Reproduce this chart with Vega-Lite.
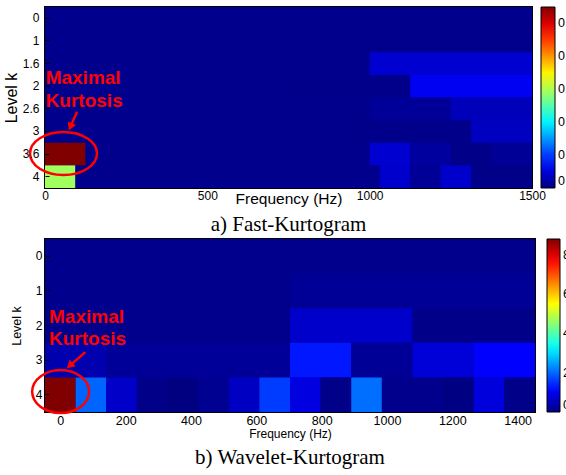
{
  "$schema": "https://vega.github.io/schema/vega-lite/v6.json",
  "padding": {"left": 2, "top": 5, "right": -10, "bottom": 0},
  "spacing": 1,
  "resolve": {"scale": {"color": "independent", "x": "independent", "y": "independent"}, "legend": {"color": "independent"}},
  "config": {
    "font": "Liberation Sans",
    "view": {"stroke": "#000000", "strokeWidth": 2, "fill": "#00008a"},
    "axis": {"grid": false, "domain": false, "ticks": false, "labelColor": "#000000", "titleColor": "#000000", "titleFontWeight": "normal", "labelFont": "Liberation Sans", "titleFont": "Liberation Sans", "tickColor": "#000000", "tickWidth": 1},
    "legend": {"labelColor": "#000000", "labelFont": "Liberation Sans"},
    "title": {"color": "#000000"}
  },
  "datasets": {
    "fast": [
      {"level": "0", "f0": 0, "f1": 1500, "k": 0.007},
      {"level": "1", "f0": 0, "f1": 750, "k": 0.007},
      {"level": "1", "f0": 750, "f1": 1500, "k": 0.007},
      {"level": "1.6", "f0": 0, "f1": 500, "k": 0.007},
      {"level": "1.6", "f0": 500, "f1": 1000, "k": 0.007},
      {"level": "1.6", "f0": 1000, "f1": 1500, "k": 0.044},
      {"level": "2", "f0": 0, "f1": 375, "k": 0.007},
      {"level": "2", "f0": 375, "f1": 750, "k": 0.007},
      {"level": "2", "f0": 750, "f1": 1125, "k": 0.006},
      {"level": "2", "f0": 1125, "f1": 1500, "k": 0.062},
      {"level": "2.6", "f0": 0, "f1": 250, "k": 0.007},
      {"level": "2.6", "f0": 250, "f1": 500, "k": 0.007},
      {"level": "2.6", "f0": 500, "f1": 750, "k": 0.007},
      {"level": "2.6", "f0": 750, "f1": 1000, "k": 0.007},
      {"level": "2.6", "f0": 1000, "f1": 1250, "k": 0.013},
      {"level": "2.6", "f0": 1250, "f1": 1500, "k": 0.032},
      {"level": "3", "f0": 0, "f1": 187.5, "k": 0.007},
      {"level": "3", "f0": 187.5, "f1": 375, "k": 0.007},
      {"level": "3", "f0": 375, "f1": 562.5, "k": 0.007},
      {"level": "3", "f0": 562.5, "f1": 750, "k": 0.007},
      {"level": "3", "f0": 750, "f1": 937.5, "k": 0.007},
      {"level": "3", "f0": 937.5, "f1": 1125, "k": 0.006},
      {"level": "3", "f0": 1125, "f1": 1312.5, "k": 0.006},
      {"level": "3", "f0": 1312.5, "f1": 1500, "k": 0.035},
      {"level": "3.6", "f0": 0, "f1": 125, "k": 0.55},
      {"level": "3.6", "f0": 125, "f1": 250, "k": 0.007},
      {"level": "3.6", "f0": 250, "f1": 375, "k": 0.007},
      {"level": "3.6", "f0": 375, "f1": 500, "k": 0.007},
      {"level": "3.6", "f0": 500, "f1": 625, "k": 0.007},
      {"level": "3.6", "f0": 625, "f1": 750, "k": 0.007},
      {"level": "3.6", "f0": 750, "f1": 875, "k": 0.007},
      {"level": "3.6", "f0": 875, "f1": 1000, "k": 0.007},
      {"level": "3.6", "f0": 1000, "f1": 1125, "k": 0.044},
      {"level": "3.6", "f0": 1125, "f1": 1250, "k": 0.016},
      {"level": "3.6", "f0": 1250, "f1": 1375, "k": 0.005},
      {"level": "3.6", "f0": 1375, "f1": 1500, "k": 0.012},
      {"level": "4", "f0": 0, "f1": 93.75, "k": 0.293},
      {"level": "4", "f0": 93.75, "f1": 187.5, "k": 0.007},
      {"level": "4", "f0": 187.5, "f1": 281.25, "k": 0.007},
      {"level": "4", "f0": 281.25, "f1": 375, "k": 0.007},
      {"level": "4", "f0": 375, "f1": 468.75, "k": 0.007},
      {"level": "4", "f0": 468.75, "f1": 562.5, "k": 0.007},
      {"level": "4", "f0": 562.5, "f1": 656.25, "k": 0.007},
      {"level": "4", "f0": 656.25, "f1": 750, "k": 0.007},
      {"level": "4", "f0": 750, "f1": 843.75, "k": 0.007},
      {"level": "4", "f0": 843.75, "f1": 937.5, "k": 0.007},
      {"level": "4", "f0": 937.5, "f1": 1031.25, "k": 0.007},
      {"level": "4", "f0": 1031.25, "f1": 1125, "k": 0.041},
      {"level": "4", "f0": 1125, "f1": 1218.75, "k": 0.012},
      {"level": "4", "f0": 1218.75, "f1": 1312.5, "k": 0.041},
      {"level": "4", "f0": 1312.5, "f1": 1406.25, "k": 0.005},
      {"level": "4", "f0": 1406.25, "f1": 1500, "k": 0.005}
    ],
    "wav": [
      {"level": "0", "f0": -46.875, "f1": 1453.125, "k": 0.1},
      {"level": "1", "f0": -46.875, "f1": 703.125, "k": 0.1},
      {"level": "1", "f0": 703.125, "f1": 1453.125, "k": 0.2},
      {"level": "2", "f0": -46.875, "f1": 328.125, "k": 0.1},
      {"level": "2", "f0": 328.125, "f1": 703.125, "k": 0.11},
      {"level": "2", "f0": 703.125, "f1": 1078.125, "k": 0.65},
      {"level": "2", "f0": 1078.125, "f1": 1453.125, "k": 0.07},
      {"level": "3", "f0": -46.875, "f1": 140.625, "k": 0.4},
      {"level": "3", "f0": 140.625, "f1": 328.125, "k": 0.22},
      {"level": "3", "f0": 328.125, "f1": 515.625, "k": 0.22},
      {"level": "3", "f0": 515.625, "f1": 703.125, "k": 0.22},
      {"level": "3", "f0": 703.125, "f1": 890.625, "k": 1.3},
      {"level": "3", "f0": 890.625, "f1": 1078.125, "k": 0.2},
      {"level": "3", "f0": 1078.125, "f1": 1265.625, "k": 0.76},
      {"level": "3", "f0": 1265.625, "f1": 1453.125, "k": 1.1},
      {"level": "4", "f0": -46.875, "f1": 46.875, "k": 8.8},
      {"level": "4", "f0": 46.875, "f1": 140.625, "k": 1.96},
      {"level": "4", "f0": 140.625, "f1": 234.375, "k": 0.62},
      {"level": "4", "f0": 234.375, "f1": 328.125, "k": 0.07},
      {"level": "4", "f0": 328.125, "f1": 421.875, "k": 0.01},
      {"level": "4", "f0": 421.875, "f1": 515.625, "k": 0.15},
      {"level": "4", "f0": 515.625, "f1": 609.375, "k": 0.57},
      {"level": "4", "f0": 609.375, "f1": 703.125, "k": 1.62},
      {"level": "4", "f0": 703.125, "f1": 796.875, "k": 0.84},
      {"level": "4", "f0": 796.875, "f1": 890.625, "k": 0.07},
      {"level": "4", "f0": 890.625, "f1": 984.375, "k": 2.05},
      {"level": "4", "f0": 984.375, "f1": 1078.125, "k": 0.11},
      {"level": "4", "f0": 1078.125, "f1": 1171.875, "k": 0.11},
      {"level": "4", "f0": 1171.875, "f1": 1265.625, "k": 0.02},
      {"level": "4", "f0": 1265.625, "f1": 1359.375, "k": 0.8},
      {"level": "4", "f0": 1359.375, "f1": 1453.125, "k": 0.07}
    ]
  },
  "vconcat": [
    {
      "width": 487,
      "height": 181,
      "title": {"text": "a) Fast-Kurtogram", "orient": "bottom", "anchor": "middle", "font": "Liberation Serif", "fontSize": 21, "fontWeight": "normal", "offset": 7},
      "layer": [
        {
          "data": {"name": "fast"},
          "mark": {"type": "rect"},
          "encoding": {
            "x": {"field": "f0", "type": "quantitative", "scale": {"domain": [0, 1500], "nice": false, "zero": false},
                  "axis": {"values": [0, 500, 1000, 1500], "format": "d", "title": "Frequency (Hz)", "labelFontSize": 12, "titleFontSize": 15.5, "labelPadding": 6, "titlePadding": -10, "labelFlush": false, "ticks": true, "tickSize": -4}},
            "x2": {"field": "f1"},
            "y": {"field": "level", "type": "ordinal", "sort": ["0", "1", "1.6", "2", "2.6", "3", "3.6", "4"], "scale": {"paddingInner": 0, "paddingOuter": 0},
                  "axis": {"title": "Level k", "labelFontSize": 12, "titleFontSize": 16, "labelPadding": 10, "titlePadding": 3, "ticks": true, "tickSize": -4}},
            "color": {"field": "k", "type": "quantitative",
                      "scale": {"domain": [0, 0.06875, 0.20625, 0.34375, 0.48125, 0.55], "range": ["#000080", "#0000ff", "#00ffff", "#ffff00", "#ff0000", "#800000"], "interpolate": "rgb"},
                      "legend": {"title": null, "orient": "right", "offset": 8, "padding": 0, "gradientLength": 181, "gradientThickness": 14, "values": [0, 0.1, 0.2, 0.3, 0.4, 0.5], "format": "~g", "labelFontSize": 12.5, "labelOffset": 3, "labelOverlap": false, "gradientStrokeColor": "#000000", "gradientStrokeWidth": 1}}
          }
        },
        {
          "layer": [
            {
              "data": {"values": [{"f": 57, "v": 6.475}]},
              "mark": {"type": "point", "shape": "M1,0C1,0.3546,0.5523,0.642,0,0.642C-0.5523,0.642,-1,0.3546,-1,0C-1,-0.3546,-0.5523,-0.642,0,-0.642C0.5523,-0.642,1,-0.3546,1,0Z", "size": 4489, "filled": false, "stroke": "#ff0000", "strokeWidth": 2.5, "opacity": 1},
              "encoding": {
                "x": {"field": "f", "type": "quantitative", "title": null, "scale": {"domain": [0, 1500], "nice": false, "zero": false},
                      "axis": {"orient": "top", "values": [0, 500, 1000, 1500], "labels": false, "title": null, "ticks": true, "tickSize": -4}},
                "y": {"field": "v", "type": "quantitative", "title": null, "scale": {"domain": [0, 8], "nice": false, "zero": false, "reverse": true},
                      "axis": {"orient": "right", "values": [0.5, 1.5, 2.5, 3.5, 4.5, 5.5, 6.5, 7.5], "labels": false, "title": null, "ticks": true, "tickSize": -4}}
              }
            },
            {
              "data": {"values": [{"f": 98.6, "v": 4.64, "f2": 78.2, "v2": 5.295}]},
              "mark": {"type": "rule", "stroke": "#ff0000", "strokeWidth": 2.5},
              "encoding": {
                "x": {"field": "f", "type": "quantitative", "title": null},
                "y": {"field": "v", "type": "quantitative", "title": null},
                "x2": {"field": "f2"},
                "y2": {"field": "v2"}
              }
            },
            {
              "data": {"values": [{"f": 78.2, "v": 5.295}]},
              "mark": {"type": "point", "shape": "triangle-down", "angle": 24, "size": 80, "filled": true, "fill": "#ff0000", "opacity": 1},
              "encoding": {
                "x": {"field": "f", "type": "quantitative", "title": null},
                "y": {"field": "v", "type": "quantitative", "title": null}
              }
            },
            {
              "data": {"values": [{"t": "Maximal", "f": 2, "v": 3.42}, {"t": "Kurtosis", "f": 2, "v": 4.43}]},
              "mark": {"type": "text", "align": "left", "baseline": "alphabetic", "font": "Liberation Sans", "fontSize": 19, "fontWeight": "bold", "fill": "#ff0000"},
              "encoding": {
                "x": {"field": "f", "type": "quantitative", "title": null},
                "y": {"field": "v", "type": "quantitative", "title": null},
                "text": {"field": "t"}
              }
            }
          ]
        }
      ],
      "resolve": {"scale": {"x": "independent", "y": "independent"}}
    },
    {
      "width": 490,
      "height": 173,
      "title": {"text": "b) Wavelet-Kurtogram", "orient": "bottom", "anchor": "middle", "font": "Liberation Serif", "fontSize": 21, "fontWeight": "normal", "offset": 7},
      "layer": [
        {
          "data": {"name": "wav"},
          "mark": {"type": "rect"},
          "encoding": {
            "x": {"field": "f0", "type": "quantitative", "scale": {"domain": [-46.875, 1453.125], "nice": false, "zero": false},
                  "axis": {"values": [0, 200, 400, 600, 800, 1000, 1200, 1400], "format": "d", "title": "Frequency (Hz)", "labelFontSize": 12.5, "titleFontSize": 12, "labelPadding": 6, "titlePadding": 2, "labelFlush": false, "ticks": true, "tickSize": -4}},
            "x2": {"field": "f1"},
            "y": {"field": "level", "type": "ordinal", "sort": ["0", "1", "2", "3", "4"], "scale": {"paddingInner": 0, "paddingOuter": 0},
                  "axis": {"title": "Level k", "labelFontSize": 12, "titleFontSize": 12.5, "labelPadding": 7, "titlePadding": 12, "ticks": true, "tickSize": -4}},
            "color": {"field": "k", "type": "quantitative",
                      "scale": {"domain": [0, 1.1, 3.3, 5.5, 7.7, 8.8], "range": ["#000080", "#0000ff", "#00ffff", "#ffff00", "#ff0000", "#800000"], "interpolate": "rgb"},
                      "legend": {"title": null, "orient": "right", "offset": 11, "padding": 0, "gradientLength": 173, "gradientThickness": 13, "values": [0, 2, 4, 6, 8], "format": "~g", "labelFontSize": 12.5, "labelOffset": 3, "labelOverlap": false, "gradientStrokeColor": "#000000", "gradientStrokeWidth": 1}}
          }
        },
        {
          "layer": [
            {
              "data": {"values": [{"f": 1, "v": 4.41}]},
              "mark": {"type": "point", "shape": "M1,0C1,0.4164,0.5523,0.754,0,0.754C-0.5523,0.754,-1,0.4164,-1,0C-1,-0.4164,-0.5523,-0.754,0,-0.754C0.5523,-0.754,1,-0.4164,1,0Z", "size": 3249, "filled": false, "stroke": "#ff0000", "strokeWidth": 2.5, "opacity": 1},
              "encoding": {
                "x": {"field": "f", "type": "quantitative", "title": null, "scale": {"domain": [-46.875, 1453.125], "nice": false, "zero": false},
                      "axis": {"orient": "top", "values": [0, 200, 400, 600, 800, 1000, 1200, 1400], "labels": false, "title": null, "ticks": true, "tickSize": -4}},
                "y": {"field": "v", "type": "quantitative", "title": null, "scale": {"domain": [0, 5], "nice": false, "zero": false, "reverse": true},
                      "axis": {"orient": "right", "values": [0.5, 1.5, 2.5, 3.5, 4.5], "labels": false, "title": null, "ticks": true, "tickSize": -4}}
              }
            },
            {
              "data": {"values": [{"f": 76.6, "v": 3.27, "f2": 29, "v2": 3.66}]},
              "mark": {"type": "rule", "stroke": "#ff0000", "strokeWidth": 2.5},
              "encoding": {
                "x": {"field": "f", "type": "quantitative", "title": null},
                "y": {"field": "v", "type": "quantitative", "title": null},
                "x2": {"field": "f2"},
                "y2": {"field": "v2"}
              }
            },
            {
              "data": {"values": [{"f": 29, "v": 3.66}]},
              "mark": {"type": "point", "shape": "triangle-down", "angle": 48, "size": 80, "filled": true, "fill": "#ff0000", "opacity": 1},
              "encoding": {
                "x": {"field": "f", "type": "quantitative", "title": null},
                "y": {"field": "v", "type": "quantitative", "title": null}
              }
            },
            {
              "data": {"values": [{"t": "Maximal", "f": -34.5, "v": 2.44}, {"t": "Kurtosis", "f": -34.5, "v": 3.06}]},
              "mark": {"type": "text", "align": "left", "baseline": "alphabetic", "font": "Liberation Sans", "fontSize": 19, "fontWeight": "bold", "fill": "#ff0000"},
              "encoding": {
                "x": {"field": "f", "type": "quantitative", "title": null},
                "y": {"field": "v", "type": "quantitative", "title": null},
                "text": {"field": "t"}
              }
            }
          ]
        }
      ],
      "resolve": {"scale": {"x": "independent", "y": "independent"}}
    }
  ]
}
